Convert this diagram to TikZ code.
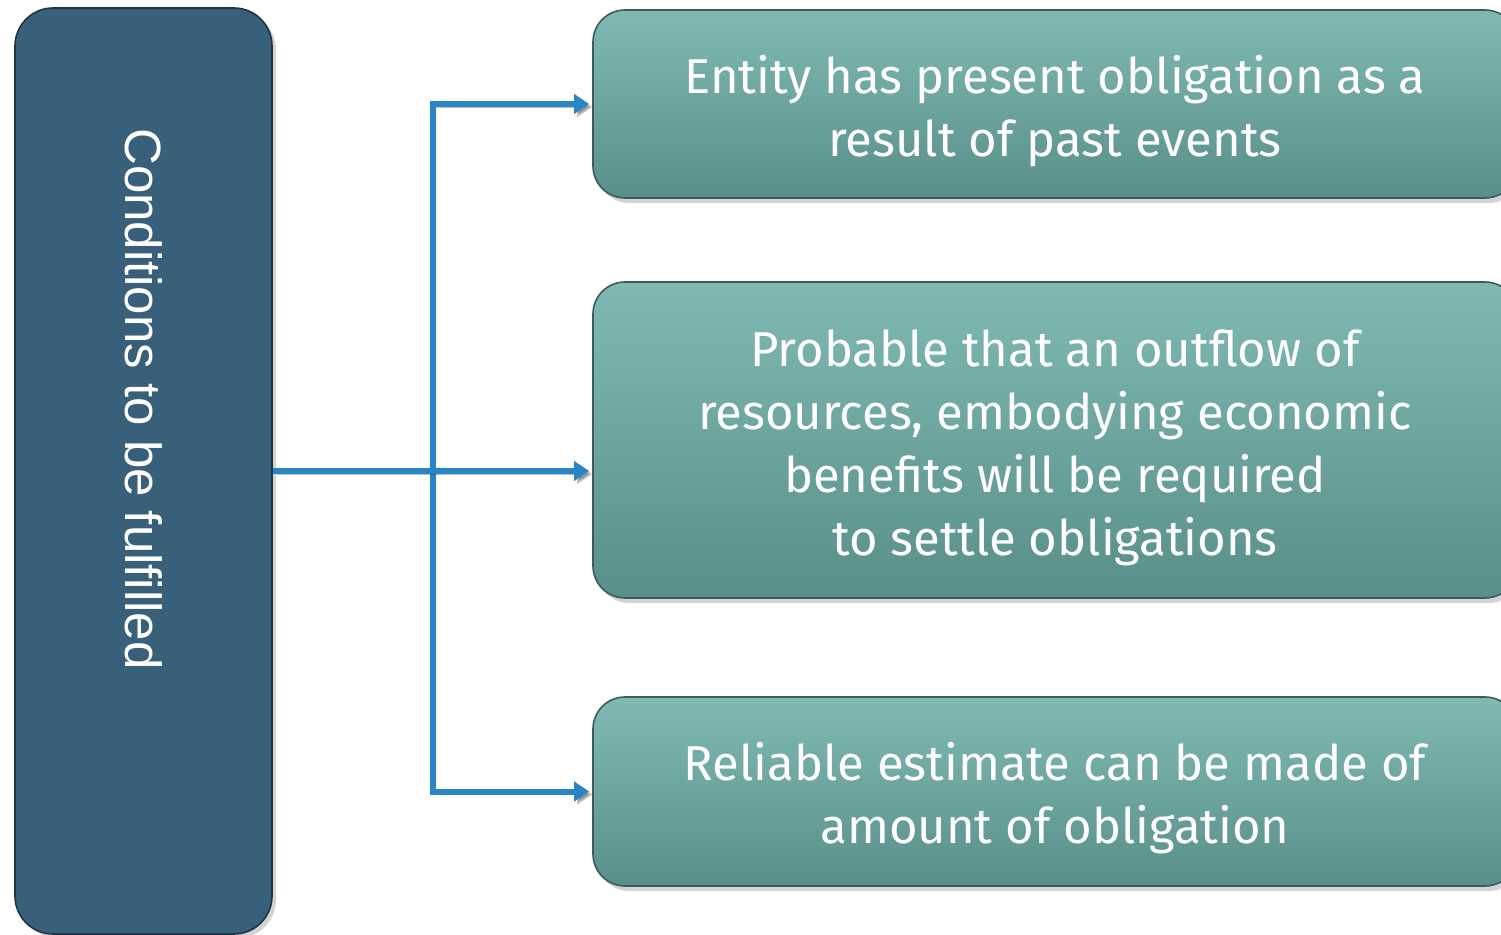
\documentclass[tikz,border=0pt]{standalone}
\usepackage{fontspec}
\usepackage{tikz}
\usetikzlibrary{positioning, arrows.meta, shadows}

\newfontfamily\condfont{Liberation Sans}
\newfontfamily\boxfont{Fira Sans}

\definecolor{condblue}{HTML}{39607A}
\definecolor{boxtop}{HTML}{80B9B3}
\definecolor{boxbottom}{HTML}{598F8A}
\definecolor{linkblue}{HTML}{2A84C8}

% box text, set a little below the box centre
\newcommand{\boxlines}[1]{%
    \raisebox{-4pt}[\height][\depth]{\begin{tabular}{@{}c@{}}#1\end{tabular}}}

\begin{document}
\begin{tikzpicture}[%
    x=0.5pt, y=-0.5pt,
    condbox/.style={
        draw=condblue!55!black, line width=0.8pt,
        fill=condblue, rounded corners=19pt,
        inner sep=0pt, minimum width=128.5pt, minimum height=463pt,
        drop shadow={opacity=0.35, shadow xshift=2pt, shadow yshift=-2pt},
    },
    itembox/.style={
        draw=boxbottom!65!black, line width=0.8pt,
        top color=boxtop, bottom color=boxbottom,
        rounded corners=16pt, inner sep=0pt,
        minimum width=462pt, text=white,
        font=\boxfont\fontsize{24.5}{31.5}\selectfont,
        drop shadow={opacity=0.35, shadow xshift=2pt, shadow yshift=-2.5pt},
    },
    link/.style={
        draw=linkblue, line width=3pt,
        -{Triangle[length=7.5pt,width=9.5pt]}, shorten >=1.5pt,
        preaction={draw=black, opacity=0.25,
            transform canvas={xshift=1.5pt, yshift=-1.5pt}},
    },
]

% fix the picture size
\useasboundingbox (0,0) rectangle (1501,935);

% left box
\node[condbox] (cond) at (143.5,471) {};
\node[rotate=-90, text=white, font=\condfont\fontsize{25.5}{30}\selectfont]
    (condlabel) at (144,399) {Conditions to be fulfilled};

% right boxes
\node[itembox, minimum height=94pt] (b1) at (1055,104)
    {\boxlines{Entity has present obligation as a\\ result of past events}};
\node[itembox, minimum height=158pt] (b2) at (1055,440)
    {\boxlines{Probable that an outflow of\\ resources, embodying economic\\ benefits will be required\\ to settle obligations}};
\node[itembox, minimum height=94.5pt] (b3) at (1055,791.5)
    {\boxlines{Reliable estimate can be made of\\ amount of obligation}};

% connectors
\path (cond.east) ++(160,0) coordinate (split);
\draw[link] (split) |- (b1.west);
\draw[link] (split) |- (b3.west);
\draw[link] (cond.east) -- (cond.east -| b2.west);

\end{tikzpicture}
\end{document}
